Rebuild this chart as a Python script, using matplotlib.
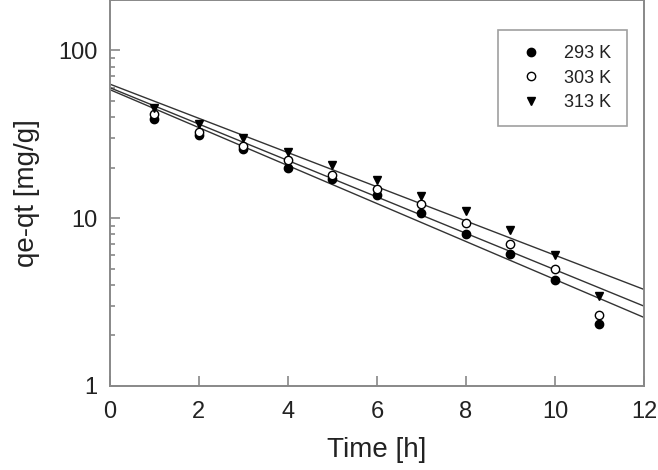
import matplotlib
matplotlib.use('Agg')
import matplotlib.pyplot as plt
from matplotlib.ticker import LogLocator, NullFormatter, FixedFormatter, FixedLocator

plt.rcParams['font.family'] = ['Liberation Sans', 'DejaVu Sans']

# data
time_h = [1, 2, 3, 4, 5, 6, 7, 8, 9, 10, 11]
q_293 = [39.2, 31.2, 25.7, 20.0, 17.2, 13.7, 10.8, 8.1, 6.08, 4.28, 2.33]
q_303 = [41.6, 32.7, 26.8, 22.1, 18.2, 14.9, 12.1, 9.38, 7.03, 5.01, 2.65]
q_313 = [45.6, 36.6, 30.1, 24.8, 20.7, 16.8, 13.5, 11.0, 8.49, 6.02, 3.43]

# fitted lines (value at t=0 and t=12), straight on the log axis
fit_t = [0, 12]
fit_293 = [58.4, 2.56]
fit_303 = [60.0, 2.99]
fit_313 = [63.0, 3.76]

labels = ['293 K', '303 K', '313 K']

fig = plt.figure(figsize=(6.58, 4.70), dpi=100)
ax = fig.add_axes([0.167, 0.179, 0.8116, 0.821])

gray = '#888888'
for f in (fit_293, fit_303, fit_313):
    ax.plot(fit_t, f, color='#333333', lw=1.0, zorder=2)

ax.plot(time_h, q_293, 'o', ms=6, mfc='black', mec='black', label=labels[0], zorder=3)
ax.plot(time_h, q_303, 'o', ms=6, mfc='white', mec='black', mew=1.0, label=labels[1], zorder=3)
ax.plot(time_h, q_313, 'v', ms=6, mfc='black', mec='black', label=labels[2], zorder=3)

ax.set_yscale('log')
ax.set_xlim(0, 12)
ax.set_ylim(1, 200)
ax.set_xticks([0, 2, 4, 6, 8, 10, 12])
ax.yaxis.set_major_locator(FixedLocator([1, 10, 100]))
ax.yaxis.set_major_formatter(FixedFormatter(['1', '10', '100']))
ax.yaxis.set_minor_locator(LogLocator(base=10, subs=range(2, 10)))
ax.yaxis.set_minor_formatter(NullFormatter())

for s in ax.spines.values():
    s.set_color(gray)
    s.set_linewidth(1.4)
ax.tick_params(which='both', direction='in', top=False, right=False, color=gray, width=1.2)
ax.tick_params(which='major', length=7, labelsize=17, labelcolor='#222222')
ax.tick_params(axis='x', which='major', pad=11)
ax.tick_params(axis='y', which='major', pad=9)
ax.tick_params(which='minor', length=3.6)

ax.set_xlabel('Time [h]', fontsize=20, labelpad=10, color='#222222')
ax.set_ylabel('qe-qt [mg/g]', fontsize=20, labelpad=13, color='#222222')

leg = ax.legend(loc='upper right', bbox_to_anchor=(0.968, 0.922), fontsize=13,
                frameon=True, fancybox=False, edgecolor=gray, handletextpad=0.85,
                borderpad=0.85, labelspacing=0.4, handlelength=2.0, borderaxespad=0)
leg.get_frame().set_linewidth(1.2)
for t in leg.get_texts():
    t.set_color('#222222')

fig.savefig('out.png', dpi=100)
